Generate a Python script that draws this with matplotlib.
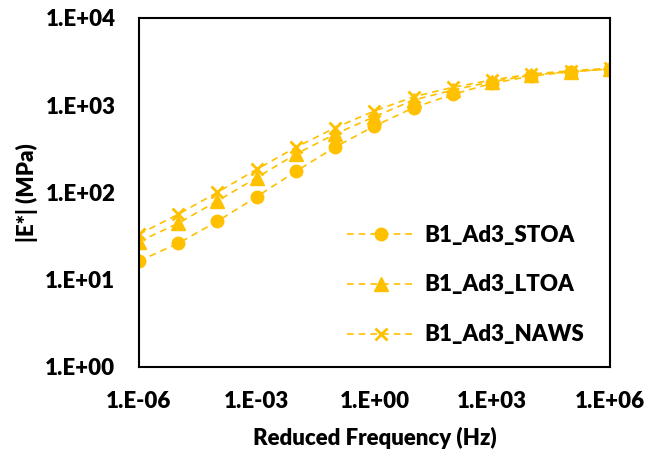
import numpy as np
import matplotlib
matplotlib.use("Agg")
import matplotlib.pyplot as plt

# -------------------------------
# Data
# -------------------------------
freq = [1e-6, 1e-5, 1e-4, 1e-3, 1e-2, 1e-1, 1e0, 1e1, 1e2, 1e3, 1e4, 1e5, 1e6]

stoa = [16.4, 26.2, 46.8, 89.5, 175, 332, 578, 938, 1334, 1783, 2162, 2425, 2600]
ltoa = [27.3, 44.4, 80, 148, 276, 468, 739, 1148, 1496, 1862, 2222, 2425, 2600]
naws = [33.2, 56.3, 100.5, 184.5, 330, 553, 859, 1253, 1606, 1950, 2280, 2490, 2655]

labels = ["B1_Ad3_STOA", "B1_Ad3_LTOA", "B1_Ad3_NAWS"]
xticks = [1e-6, 1e-3, 1e0, 1e3, 1e6]
yticks = [1e0, 1e1, 1e2, 1e3, 1e4]
xticklabels = ["1.E-06", "1.E-03", "1.E+00", "1.E+03", "1.E+06"]
yticklabels = ["1.E+00", "1.E+01", "1.E+02", "1.E+03", "1.E+04"]

color = "#FFC000"
fs = 16
wt = "heavy"
plt.rcParams["font.family"] = ["Lato", "DejaVu Sans"]

# -------------------------------
# Plot
# -------------------------------
fig = plt.figure(figsize=(6.6, 4.58), dpi=100)
ax = fig.add_axes([0.2106, 0.1987, 0.7136, 0.762])

dash = (0, (4, 3))
ax.plot(freq, stoa, color=color, linestyle=dash, linewidth=1.2,
        marker="o", markersize=9, label=labels[0])
ax.plot(freq, ltoa, color=color, linestyle=dash, linewidth=1.2,
        marker="^", markersize=10, label=labels[1])
ax.plot(freq, naws, color=color, linestyle=dash, linewidth=1.2,
        marker="x", markersize=9, markeredgewidth=2, label=labels[2])

ax.set_xscale("log")
ax.set_yscale("log")
ax.set_xlim(1e-6, 1e6)
ax.set_ylim(1e0, 1e4)
ax.set_xticks(xticks)
ax.set_yticks(yticks)
ax.set_xticklabels(xticklabels)
ax.set_yticklabels(yticklabels)
ax.minorticks_off()
ax.tick_params(length=0, labelsize=fs, pad=17)
for lab in ax.get_xticklabels() + ax.get_yticklabels():
    lab.set_fontweight(wt)

for s in ax.spines.values():
    s.set_linewidth(1.5)
    s.set_color("black")

ax.set_xlabel("Reduced Frequency (Hz)", fontsize=fs, fontweight=wt, labelpad=11)
ax.set_ylabel("|E*| (MPa)", fontsize=fs, fontweight=wt)
ax.yaxis.set_label_coords(-0.215, 0.5)

leg = ax.legend(loc="center left", bbox_to_anchor=(0.40, 0.235), frameon=False,
                handlelength=3.0, labelspacing=1.3, handletextpad=0.45,
                prop={"weight": wt, "size": fs})

fig.savefig("out.png", dpi=100)
